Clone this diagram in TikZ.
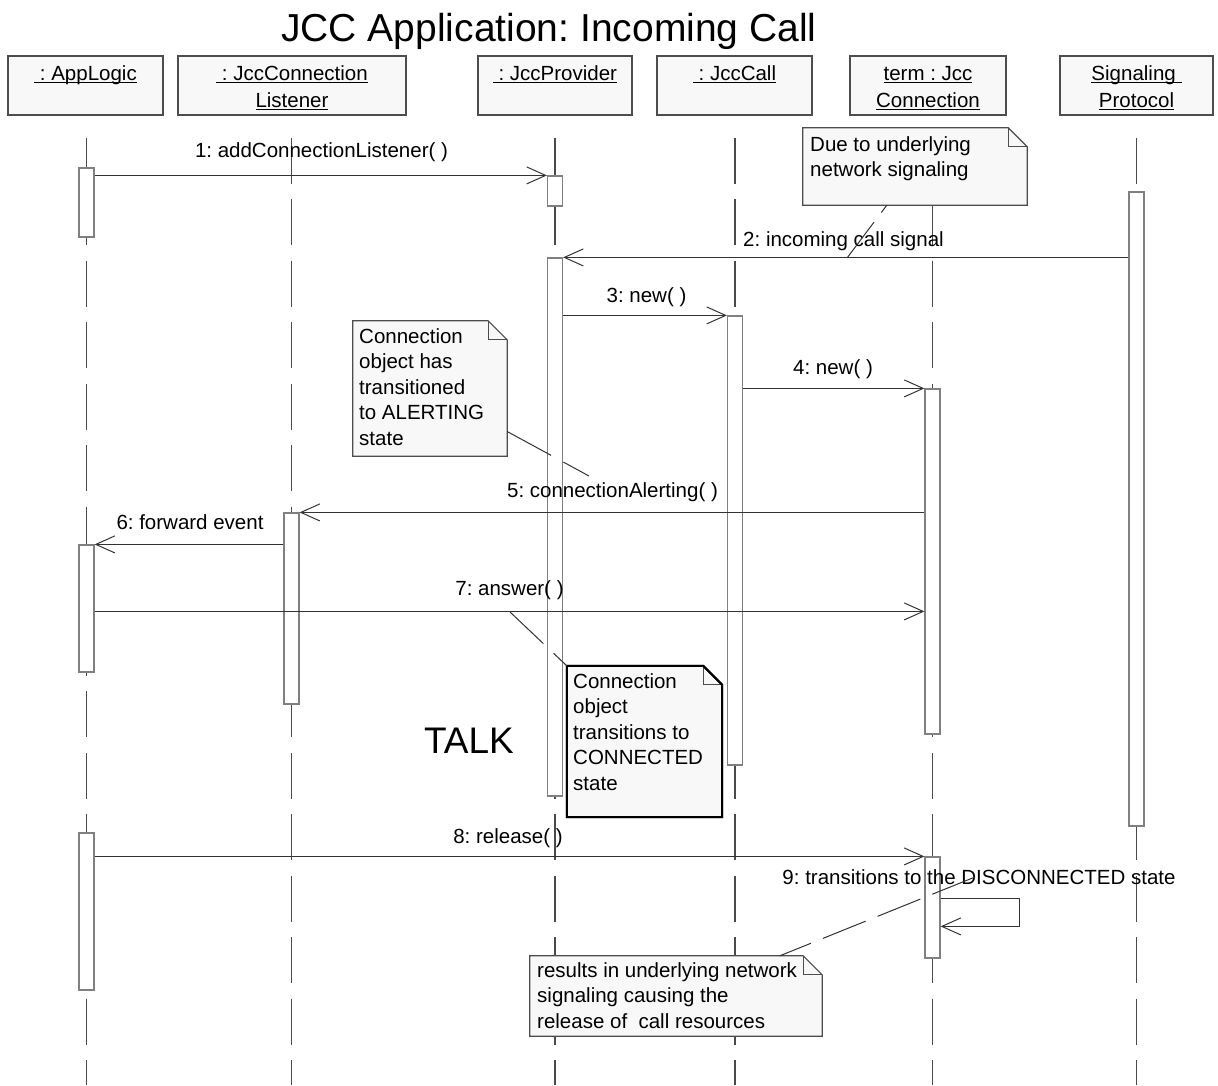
\documentclass[tikz,border=0pt]{standalone}
\usepackage{fontspec}
\setmainfont{Liberation Sans}
\usetikzlibrary{arrows.meta}
\frenchspacing
\definecolor{boxfill}{HTML}{F8F8F8}
\definecolor{hdrline}{HTML}{4D4D4D}
\definecolor{lifeclr}{HTML}{4A4A4A}
\definecolor{actline}{HTML}{808080}
\definecolor{msgclr}{HTML}{333333}
\definecolor{noteclr}{HTML}{4D4D4D}
% underline with a firmer rule than \underline
\newcommand{\undl}[1]{\setbox0=\hbox{#1}\rlap{\rule[-3.2pt]{\wd0}{1.3pt}}\box0}
\begin{document}
\begin{tikzpicture}[x=1pt,y=-1pt,
  hdr/.style={draw=hdrline, fill=boxfill, line width=1.2pt, minimum height=59pt, inner sep=0pt},
  hdrtxt/.style={font=\fontsize{20.5}{27}\selectfont, align=center, anchor=north, inner sep=0pt},
  life/.style={draw=lifeclr, line width=1.1pt, dash pattern=on 46pt off 15.5pt},
  act/.style={draw=actline, fill=white, line width=1.2pt, minimum width=15pt, inner sep=0pt},
  msg/.style={draw=msgclr, line width=1pt, -{Straight Barb[length=19pt,width=17pt,line width=1pt]}},
  lbl/.style={font=\fontsize{20.5}{25.5}\selectfont, anchor=base, inner sep=0pt},
  notearea/.style={inner sep=0pt},
  noteline/.style={draw=noteclr, fill=boxfill, line width=1.2pt, line join=miter},
  notetxt/.style={font=\fontsize{20.5}{25.5}\selectfont, align=left, anchor=north west, inner sep=0pt},
  link/.style={draw=msgclr, line width=1pt, dash pattern=on 46pt off 14pt},
]
\useasboundingbox (0,0) rectangle (1218,1085);
\fill[white] (0,0) rectangle (1218,1085);

% title
\node[font=\fontsize{39}{45}\selectfont, anchor=base, inner sep=0pt] (title) at (549,41) {JCC Application: Incoming Call};

% object boxes
\node[hdr, minimum width=155pt] (h1) at (85.5,85.5) {};
\node[hdr, minimum width=228pt] (h2) at (292,85.5) {};
\node[hdr, minimum width=154pt] (h3) at (555,85.5) {};
\node[hdr, minimum width=155pt] (h4) at (734.5,85.5) {};
\node[hdr, minimum width=156pt] (h5) at (928,85.5) {};
\node[hdr, minimum width=153pt] (h6) at (1136.5,85.5) {};
\node[hdrtxt] (h1t) at (85.5,61.1) {\strut\undl{\ : AppLogic}};
\node[hdrtxt] (h2t) at (292,61.1) {\strut\undl{\ : JccConnection}\\\strut\undl{Listener}};
\node[hdrtxt] (h3t) at (555,61.1) {\strut\undl{\ : JccProvider}};
\node[hdrtxt] (h4t) at (734.5,61.1) {\strut\undl{\ : JccCall}};
\node[hdrtxt] (h5t) at (928,61.1) {\strut\undl{term : Jcc}\\\strut\undl{Connection}};
\node[hdrtxt] (h6t) at (1136.5,61.1) {\strut\undl{Signaling\ }\\\strut\undl{Protocol}};

% lifelines
\coordinate (l1top) at (86.5,137.5);   \coordinate (l1bot) at (86.5,1085);
\coordinate (l2top) at (291.5,137.5);  \coordinate (l2bot) at (291.5,1085);
\coordinate (l3top) at (555,137.5);    \coordinate (l3bot) at (555,1085);
\coordinate (l4top) at (735,137.5);    \coordinate (l4bot) at (735,1085);
\coordinate (l5top) at (932.5,137.5);  \coordinate (l5bot) at (932.5,1085);
\coordinate (l6top) at (1136.5,137.5); \coordinate (l6bot) at (1136.5,1085);
\foreach \i in {1,...,6} \draw[life] (l\i top) -- (l\i bot);

% activation bars
\node[act, minimum height=69pt]  (a1) at (86.5,202.5) {};
\node[act, minimum height=127pt] (a2) at (86.5,608.5) {};
\node[act, minimum height=157pt] (a3) at (86.5,911.5) {};
\node[act, minimum height=191pt] (ls) at (291.5,608.5) {};
\node[act, minimum height=30pt]  (p1) at (555,191) {};
\node[act, minimum height=538pt] (p2) at (555,527) {};
\node[act, minimum height=449pt] (cl) at (735,540.5) {};
\node[act, minimum height=345pt] (c1) at (932.5,561.5) {};
\node[act, minimum height=101pt] (c2) at (932.5,907.5) {};
\node[act, minimum height=634pt] (sg) at (1136.5,509) {};

% messages
\draw[msg] ([yshift=-8pt]a1.north east) -- (p1.north west);
\draw[msg] ([yshift=-66pt]sg.north west) -- (p2.north east);
\draw[msg] ([yshift=-58pt]p2.north east) -- (cl.north west);
\draw[msg] ([yshift=-73pt]cl.north east) -- (c1.north west);
\draw[msg] ([yshift=-124pt]c1.north west) -- (ls.north east);
\draw[msg] ([yshift=-32pt]ls.north west) -- (a2.north east);
\draw[msg] ([yshift=-67pt]a2.north east) -- ([yshift=-223pt]c1.north west);
\draw[msg] ([yshift=-24pt]a3.north east) -- (c2.north west);
\draw[msg] ([yshift=-42pt]c2.north east) -- ++(79,0) -- ++(0,28) -- ([yshift=-70pt]c2.north east);

% message labels
\node[lbl] (m1) at (321.5,157.5) {1: addConnectionListener( )};
\node[lbl] (m2) at (843.5,246) {2: incoming call signal};
\node[lbl] (m3) at (646.5,302) {3: new( )};
\node[lbl] (m4) at (833,374) {4: new( )};
\node[lbl] (m5) at (612.5,497) {5: connectionAlerting( )};
\node[lbl] (m6) at (190,529) {6: forward event};
\node[lbl] (m7) at (509.5,595) {7: answer( )};
\node[lbl] (m8) at (508,843) {8: release( )};
\node[lbl] (m9) at (979,884) {9: transitions to the DISCONNECTED state};

\node[font=\fontsize{37}{44}\selectfont, anchor=base, inner sep=0pt] (talk) at (469,753) {TALK};

% notes
\node[notearea, minimum width=224pt, minimum height=77pt] (n1) at (915,166.5) {};
\node[notearea, minimum width=154pt, minimum height=135pt] (n2) at (430,388.5) {};
\node[notearea, minimum width=155pt, minimum height=151pt] (n3) at (644.5,741.5) {};
\node[notearea, minimum width=292pt, minimum height=80pt] (n4) at (676,996) {};
\foreach \n/\w in {n1/1.2pt, n2/1.2pt, n3/2pt, n4/1.2pt} {
  \draw[noteline, line width=\w] (\n.south west) -- (\n.north west) -- ([xshift=-19pt]\n.north east)
    -- ([yshift=-19pt]\n.north east) -- (\n.south east) -- cycle;
  \draw[draw=noteclr, line width=1pt] ([xshift=-19pt]\n.north east) -- ([xshift=-19pt,yshift=-19pt]\n.north east)
    -- ([yshift=-19pt]\n.north east);
}
\draw[noteline, draw=black, line width=2pt, fill=none] (n3.south west) -- (n3.north west) -- ([xshift=-19pt]n3.north east)
    -- ([yshift=-19pt]n3.north east) -- (n3.south east) -- cycle;

\node[notetxt] (n1t) at (810,133.15) {\strut Due to underlying\\\strut network signaling};
\node[notetxt] (n2t) at (359,325.15) {\strut Connection\\\strut object has\\\strut transitioned\\\strut to ALERTING\\\strut state};
\node[notetxt] (n3t) at (573,670.15) {\strut Connection\\\strut object\\\strut transitions to\\\strut CONNECTED\\\strut state};
\node[notetxt] (n4t) at (537,959.15) {\strut results in underlying network\\\strut signaling causing the\\\strut release of~ call resources};

% note anchors on the messages
\coordinate (k1) at (847,258);
\coordinate (k2) at (589,476);
\coordinate (k3) at (510,612);
\coordinate (k4) at (975,877);
\draw[link, dash pattern=on 45pt off 12pt] (k1) -- ([xshift=84pt]n1.south west);
\draw[link, dash pattern=on 50pt off 14pt] ([yshift=-43pt]n2.east) -- (k2);
\draw[link] (k3) -- (n3.north west);
\draw[link, dash pattern=on 46pt off 13pt] (k4) -- ([xshift=250pt]n4.north west);
\end{tikzpicture}
\end{document}
